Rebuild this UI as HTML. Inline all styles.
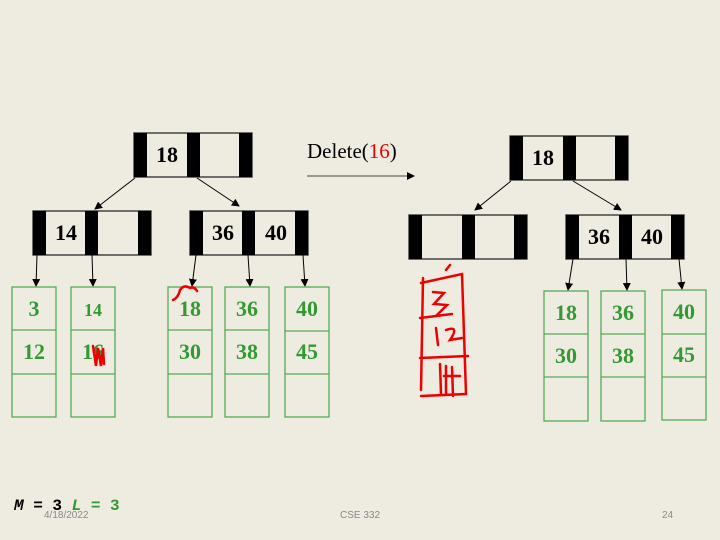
<!DOCTYPE html>
<html><head><meta charset="utf-8"><style>
html,body{margin:0;padding:0;background:#eeece1;}
svg{display:block}
.n{font-family:"Liberation Serif",serif;font-weight:bold;font-size:22px;}
.g{fill:#339933;font-family:"Liberation Serif",serif;font-weight:bold;font-size:22px;}
</style></head><body>
<svg width="720" height="540" viewBox="0 0 720 540" xmlns="http://www.w3.org/2000/svg">
<defs><marker id="a" markerWidth="8" markerHeight="8" refX="7" refY="4" orient="auto" markerUnits="userSpaceOnUse"><path d="M0,0 L8,4 L0,8 z" fill="#000"/></marker></defs>
<rect width="720" height="540" fill="#eeece1"/>
<g stroke="#444" stroke-width="1.5" fill="none">
<rect x="134" y="133" width="118" height="44"/>
<rect x="33" y="211" width="118" height="44"/>
<rect x="190" y="211" width="118" height="44"/>
<rect x="510" y="136" width="118" height="44"/>
<rect x="409" y="215" width="118" height="44"/>
<rect x="566" y="215" width="118" height="44"/>
</g>
<g fill="#000">
<rect x="134" y="133" width="13" height="44"/><rect x="187" y="133" width="13" height="44"/><rect x="239" y="133" width="13" height="44"/>
<rect x="33" y="211" width="13" height="44"/><rect x="85" y="211" width="13" height="44"/><rect x="138" y="211" width="13" height="44"/>
<rect x="190" y="211" width="13" height="44"/><rect x="242" y="211" width="13" height="44"/><rect x="295" y="211" width="13" height="44"/>
<rect x="510" y="136" width="13" height="44"/><rect x="563" y="136" width="13" height="44"/><rect x="615" y="136" width="13" height="44"/>
<rect x="409" y="215" width="13" height="44"/><rect x="462" y="215" width="13" height="44"/><rect x="514" y="215" width="13" height="44"/>
<rect x="566" y="215" width="13" height="44"/><rect x="619" y="215" width="13" height="44"/><rect x="671" y="215" width="13" height="44"/>
</g>
<g class="n" text-anchor="middle">
<text x="167" y="162">18</text>
<text x="66" y="240">14</text>
<text x="223" y="240">36</text><text x="276" y="240">40</text>
<text x="543" y="165">18</text>
<text x="599" y="244">36</text><text x="652" y="244">40</text>
</g>
<g stroke="#000" stroke-width="1" marker-end="url(#a)">
<line x1="135" y1="178" x2="95" y2="209"/>
<line x1="197" y1="178" x2="239" y2="206"/>
<line x1="37" y1="255" x2="36" y2="286"/>
<line x1="92" y1="255" x2="93" y2="286"/>
<line x1="196" y1="255" x2="192" y2="286"/>
<line x1="248" y1="255" x2="250" y2="286"/>
<line x1="303" y1="255" x2="305" y2="286"/>
<line x1="511" y1="181" x2="475" y2="210"/>
<line x1="573" y1="181" x2="621" y2="210"/>
<line x1="573" y1="259" x2="568" y2="290"/>
<line x1="626" y1="259" x2="627" y2="290"/>
<line x1="679" y1="259" x2="682" y2="289"/>
<line x1="307" y1="176" x2="414" y2="176" stroke="#444"/>
</g>
<g stroke="#55aa55" stroke-width="1.3" fill="none">
<rect x="12" y="287" width="44" height="130"/><line x1="12" y1="330" x2="56" y2="330"/><line x1="12" y1="374" x2="56" y2="374"/>
<rect x="71" y="287" width="44" height="130"/><line x1="71" y1="330" x2="115" y2="330"/><line x1="71" y1="374" x2="115" y2="374"/>
<rect x="168" y="287" width="44" height="130"/><line x1="168" y1="330" x2="212" y2="330"/><line x1="168" y1="374" x2="212" y2="374"/>
<rect x="225" y="287" width="44" height="130"/><line x1="225" y1="330" x2="269" y2="330"/><line x1="225" y1="374" x2="269" y2="374"/>
<rect x="285" y="287" width="44" height="130"/><line x1="285" y1="331" x2="329" y2="331"/><line x1="285" y1="374" x2="329" y2="374"/>
<rect x="544" y="291" width="44" height="130"/><line x1="544" y1="334" x2="588" y2="334"/><line x1="544" y1="377" x2="588" y2="377"/>
<rect x="601" y="291" width="44" height="130"/><line x1="601" y1="334" x2="645" y2="334"/><line x1="601" y1="377" x2="645" y2="377"/>
<rect x="662" y="290" width="44" height="130"/><line x1="662" y1="334" x2="706" y2="334"/><line x1="662" y1="377" x2="706" y2="377"/>
</g>
<g class="g" text-anchor="middle">
<text x="34" y="316">3</text><text x="34" y="359">12</text>
<text x="93" y="316" style="font-size:18px">14</text><text x="93" y="359">16</text>
<text x="190" y="316">18</text><text x="190" y="359">30</text>
<text x="247" y="316">36</text><text x="247" y="359">38</text>
<text x="307" y="316">40</text><text x="307" y="359">45</text>
<text x="566" y="320">18</text><text x="566" y="363">30</text>
<text x="623" y="320">36</text><text x="623" y="363">38</text>
<text x="684" y="319">40</text><text x="684" y="362">45</text>
</g>
<text x="307" y="158" font-family="Liberation Serif,serif" font-size="21" fill="#000">Delete(<tspan fill="#e00">16</tspan>)</text>
<g stroke="#ee0000" stroke-width="2.5" fill="none" stroke-linecap="round">
<path d="M93,346 L96,366 L98,348 L101,366 L103,348 L104,364"/>
<path d="M173,300 Q178,298 180,290 Q184,284 190,288 Q194,286 197,291"/>
<path d="M423,278 L421,390 M421,283 L462,274 L466,394 L421,396 M420,318 L452,314 M420,358 L468,356 M446,270 L450,265"/>
<path d="M433,292 L444,293 L434,304 L447,305 L436,316"/>
<path d="M436,328 L438,345 M446,330 Q460,325 450,340 L462,338"/>
<path d="M440,364 L441,394 M446,366 L446,394 M444,376 L460,376 M452,367 L453,396"/>
</g>
<text x="14" y="510" font-family="Liberation Mono,monospace" font-weight="bold" font-size="16"><tspan font-style="italic">M</tspan> = 3 <tspan fill="#339933" font-style="italic">L</tspan><tspan fill="#339933"> = 3</tspan></text>
<text x="44" y="518" font-family="Liberation Sans,sans-serif" font-size="10" fill="#888">4/18/2022</text>
<text x="340" y="518" font-family="Liberation Sans,sans-serif" font-size="10" fill="#888">CSE 332</text>
<text x="662" y="518" font-family="Liberation Sans,sans-serif" font-size="10" fill="#888">24</text>
</svg>
</body></html>
